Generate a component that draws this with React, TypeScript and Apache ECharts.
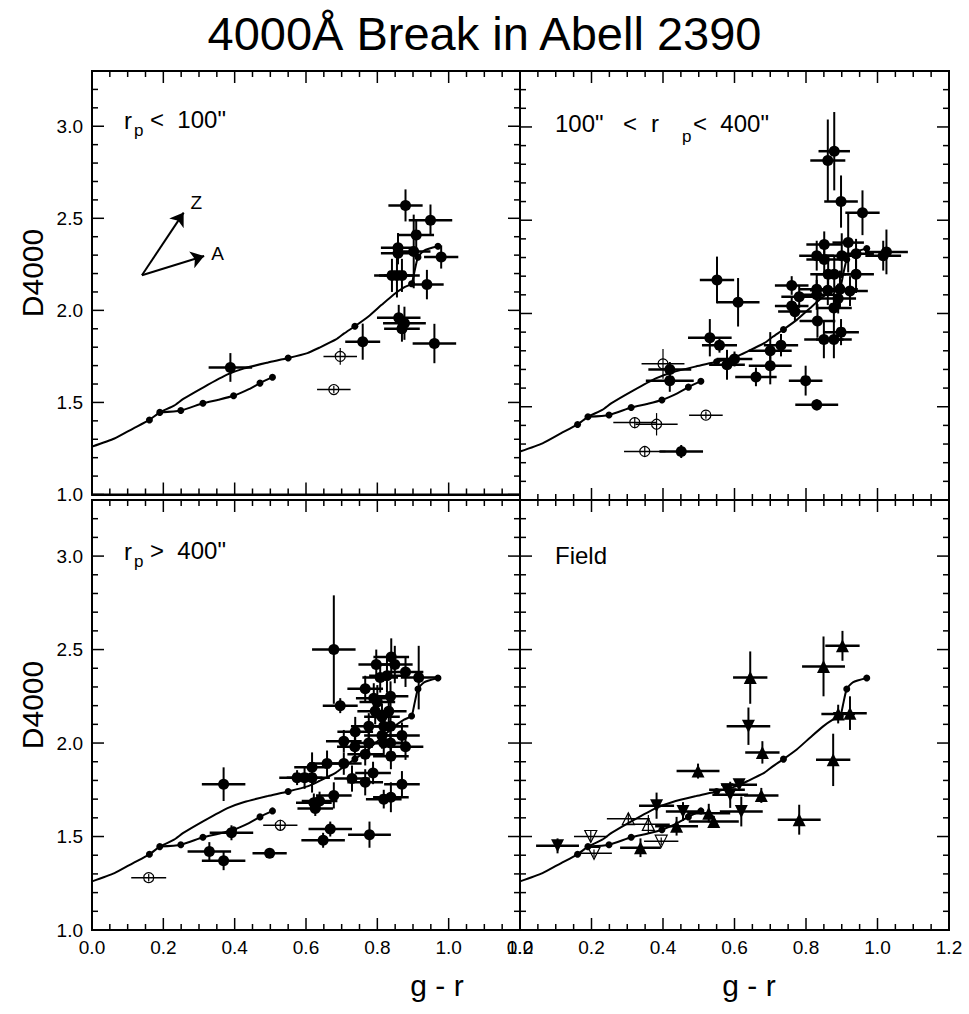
import React, { useEffect, useRef } from 'react';
import * as echarts from 'echarts';

const FONT = '"Liberation Sans", Arial, Helvetica, sans-serif';
const TITLE = '4000Å Break in Abell 2390';
const X_MIN = 0, X_MAX = 1.2, X_STEP = 0.2;
const Y_MIN = 1.0, Y_MAX = 3.3, Y_STEP = 0.5;

// tick positions
const xMajorTicks = [0, 0.2, 0.4, 0.6, 0.8, 1.0, 1.2];
const xMinorTicks = [0.05, 0.1, 0.15, 0.25, 0.3, 0.35, 0.45, 0.5, 0.55, 0.65, 0.7, 0.75, 0.85, 0.9, 0.95, 1.05, 1.1, 1.15];
const yMajorTicks = [1.0, 1.5, 2.0, 2.5, 3.0];
const yMinorTicks = [1.1, 1.2, 1.3, 1.4, 1.6, 1.7, 1.8, 1.9, 2.1, 2.2, 2.3, 2.4, 2.6, 2.7, 2.8, 2.9, 3.1, 3.2];

const modelMainX = [0.0, 0.063, 0.114, 0.161, 0.19, 0.23, 0.256, 0.315, 0.38, 0.427, 0.492, 0.55, 0.604, 0.637, 0.684, 0.707, 0.737, 0.775, 0.812, 0.847, 0.875, 0.896, 0.903, 0.914, 0.931, 0.97];
const modelMainY = [1.26, 1.304, 1.357, 1.405, 1.446, 1.483, 1.519, 1.585, 1.652, 1.685, 1.716, 1.741, 1.768, 1.797, 1.842, 1.875, 1.914, 1.967, 2.03, 2.088, 2.125, 2.145, 2.2, 2.289, 2.325, 2.348];
const modelLowX = [0.19, 0.249, 0.311, 0.355, 0.397, 0.44, 0.471, 0.506];
const modelLowY = [1.446, 1.456, 1.496, 1.515, 1.536, 1.572, 1.605, 1.637];
const modelDotsX = [0.161, 0.19, 0.55, 0.737, 0.896, 0.914, 0.97, 0.249, 0.311, 0.397, 0.471, 0.506];
const modelDotsY = [1.405, 1.446, 1.741, 1.914, 2.145, 2.289, 2.348, 1.456, 1.496, 1.536, 1.605, 1.637];

const arrowZ = [0.14, 2.191, 0.257, 2.531];
const arrowA = [0.14, 2.191, 0.3145, 2.295];
const arrowLabels = [
  { name: 'Z', value: [0.2925, 2.585] },
  { name: 'A', value: [0.352, 2.311] },
];

const p1Filled = [
  [0.388, 1.69, 0.061, 0.078], [0.879, 2.57, 0.048, 0.087], [0.949, 2.49, 0.061, 0.085],
  [0.909, 2.41, 0.05, 0.08], [0.858, 2.34, 0.048, 0.08], [0.858, 2.31, 0.048, 0.06],
  [0.902, 2.32, 0.047, 0.2], [0.979, 2.29, 0.048, 0.063], [0.841, 2.19, 0.05, 0.09],
  [0.855, 2.19, 0.05, 0.12], [0.869, 2.19, 0.05, 0.09], [0.939, 2.14, 0.047, 0.08],
  [0.860, 1.96, 0.061, 0.07], [0.876, 1.93, 0.06, 0.09], [0.869, 1.90, 0.05, 0.07],
  [0.759, 1.83, 0.049, 0.098], [0.960, 1.82, 0.061, 0.107],
];
const p1Open = [[0.696, 1.75, 0.047, 0.045], [0.678, 1.57, 0.047, 0.02]];

const p2Filled = [
  [0.879, 2.87, 0.044, 0.21], [0.861, 2.82, 0.049, 0.22], [0.898, 2.60, 0.047, 0.14],
  [0.958, 2.54, 0.048, 0.12], [0.851, 2.37, 0.05, 0.07], [0.918, 2.38, 0.044, 0.16],
  [0.830, 2.31, 0.049, 0.08], [0.851, 2.29, 0.05, 0.09], [0.900, 2.31, 0.05, 0.12],
  [0.940, 2.32, 0.05, 0.08], [1.025, 2.33, 0.06, 0.12], [1.016, 2.31, 0.05, 0.08],
  [0.862, 2.21, 0.05, 0.1], [0.879, 2.21, 0.05, 0.1], [0.940, 2.21, 0.05, 0.1],
  [0.760, 2.15, 0.047, 0.05], [0.781, 2.09, 0.05, 0.06], [0.830, 2.13, 0.05, 0.08],
  [0.861, 2.125, 0.05, 0.08], [0.895, 2.13, 0.05, 0.1], [0.923, 2.12, 0.05, 0.08],
  [0.830, 2.10, 0.05, 0.08], [0.760, 2.04, 0.047, 0.05], [0.769, 2.01, 0.047, 0.05],
  [0.890, 2.08, 0.05, 0.08], [0.878, 2.03, 0.05, 0.08], [0.832, 1.96, 0.05, 0.09],
  [0.898, 1.90, 0.05, 0.07], [0.850, 1.86, 0.055, 0.1], [0.878, 1.86, 0.05, 0.1],
  [0.730, 1.83, 0.048, 0.06], [0.700, 1.80, 0.06, 0.1], [0.700, 1.72, 0.06, 0.1],
  [0.799, 1.64, 0.047, 0.08], [0.830, 1.51, 0.06, 0.03], [0.551, 2.18, 0.048, 0.125],
  [0.610, 2.06, 0.06, 0.13], [0.531, 1.87, 0.061, 0.1], [0.558, 1.83, 0.049, 0.04],
  [0.579, 1.725, 0.05, 0.08], [0.600, 1.756, 0.05, 0.04], [0.419, 1.70, 0.06, 0.04],
  [0.419, 1.64, 0.067, 0.06], [0.660, 1.66, 0.058, 0.05], [0.451, 1.26, 0.061, 0.035],
];
const p2Open = [
  [0.400, 1.73, 0.06, 0.08], [0.321, 1.415, 0.06, 0.03], [0.382, 1.406, 0.059, 0.06],
  [0.349, 1.26, 0.058, 0.03], [0.520, 1.455, 0.047, 0.02],
];

const p3Filled = [
  [0.678, 2.50, 0.061, 0.29], [0.696, 2.20, 0.049, 0.04], [0.839, 2.46, 0.05, 0.1],
  [0.797, 2.42, 0.05, 0.08], [0.849, 2.42, 0.05, 0.1], [0.879, 2.38, 0.05, 0.08],
  [0.916, 2.35, 0.05, 0.17], [0.808, 2.35, 0.05, 0.08], [0.827, 2.36, 0.05, 0.09],
  [0.766, 2.29, 0.05, 0.07], [0.837, 2.25, 0.05, 0.08], [0.79, 2.24, 0.05, 0.08],
  [0.80, 2.22, 0.05, 0.09], [0.794, 2.17, 0.05, 0.07], [0.832, 2.17, 0.05, 0.08],
  [0.813, 2.14, 0.05, 0.07], [0.738, 2.06, 0.05, 0.08], [0.776, 2.09, 0.05, 0.07],
  [0.818, 2.09, 0.05, 0.08], [0.837, 2.09, 0.05, 0.08], [0.813, 2.04, 0.05, 0.07],
  [0.869, 2.04, 0.05, 0.07], [0.706, 2.01, 0.05, 0.06], [0.737, 1.98, 0.05, 0.08],
  [0.776, 2.00, 0.05, 0.07], [0.818, 2.00, 0.05, 0.07], [0.837, 2.00, 0.05, 0.07],
  [0.879, 1.98, 0.05, 0.07], [0.766, 1.94, 0.05, 0.06], [0.838, 1.93, 0.05, 0.07],
  [0.659, 1.89, 0.05, 0.07], [0.706, 1.89, 0.05, 0.06], [0.617, 1.87, 0.05, 0.08],
  [0.575, 1.815, 0.05, 0.04], [0.596, 1.815, 0.05, 0.06], [0.617, 1.815, 0.05, 0.08],
  [0.788, 1.84, 0.05, 0.06], [0.729, 1.81, 0.05, 0.07], [0.766, 1.79, 0.05, 0.07],
  [0.869, 1.78, 0.05, 0.07], [0.678, 1.72, 0.05, 0.07], [0.818, 1.70, 0.05, 0.05],
  [0.838, 1.71, 0.05, 0.08], [0.622, 1.68, 0.05, 0.05], [0.638, 1.69, 0.05, 0.05],
  [0.626, 1.65, 0.05, 0.04], [0.668, 1.54, 0.061, 0.04], [0.648, 1.48, 0.061, 0.04],
  [0.778, 1.51, 0.06, 0.07], [0.498, 1.41, 0.048, 0.02], [0.369, 1.78, 0.061, 0.09],
  [0.329, 1.42, 0.061, 0.05], [0.369, 1.37, 0.061, 0.05], [0.391, 1.52, 0.061, 0.04],
];
const p3Open = [[0.159, 1.28, 0.049, 0.02], [0.528, 1.56, 0.048, 0.03]];

const p4UpFilled = [
  [0.902, 2.52, 0.048, 0.08], [0.849, 2.41, 0.06, 0.16], [0.644, 2.35, 0.048, 0.14],
  [0.923, 2.16, 0.047, 0.09], [0.890, 2.155, 0.047, 0.05], [0.876, 1.91, 0.048, 0.14],
  [0.678, 1.95, 0.048, 0.06], [0.498, 1.85, 0.06, 0.04], [0.675, 1.72, 0.048, 0.04],
  [0.781, 1.59, 0.06, 0.08], [0.337, 1.44, 0.057, 0.05], [0.438, 1.555, 0.06, 0.05],
  [0.528, 1.625, 0.06, 0.05], [0.542, 1.58, 0.07, 0.03],
];
const p4UpOpen = [[0.303, 1.595, 0.06, 0.03], [0.359, 1.565, 0.06, 0.05]];
const p4DownFilled = [
  [0.639, 2.09, 0.061, 0.1], [0.105, 1.45, 0.06, 0.04], [0.382, 1.665, 0.049, 0.07],
  [0.456, 1.634, 0.048, 0.05], [0.579, 1.75, 0.05, 0.03], [0.588, 1.723, 0.05, 0.07],
  [0.613, 1.777, 0.05, 0.03], [0.619, 1.634, 0.06, 0.08],
];
const p4DownOpen = [[0.198, 1.50, 0.047, 0.03], [0.207, 1.41, 0.05, 0.02], [0.395, 1.475, 0.048, 0.02]];

const BLACK = '#000';
const MAJOR_LEN = 12, MINOR_LEN = 6;

// one chart instance per panel: its div box and the grid inside it
const PANELS = [
  { div: { left: 0, top: 60, width: 545, height: 444 }, grid: { left: 92, top: 11, width: 428, height: 429 }, xLabels: false, yLabels: true },
  { div: { left: 495, top: 60, width: 474, height: 444 }, grid: { left: 25, top: 11, width: 429, height: 429 }, xLabels: false, yLabels: false },
  { div: { left: 0, top: 496, width: 545, height: 518 }, grid: { left: 92, top: 4, width: 428, height: 430 }, xLabels: true, yLabels: true },
  { div: { left: 495, top: 496, width: 474, height: 518 }, grid: { left: 25, top: 4, width: 429, height: 430 }, xLabels: true, yLabels: false },
];

function errRender(lw: number) {
  return (params: any, api: any) => {
    const x = api.value(0), y = api.value(1), ex = api.value(2), ey = api.value(3);
    const a = api.coord([x - ex, y]);
    const b = api.coord([x + ex, y]);
    const c = api.coord([x, y - ey]);
    const d = api.coord([x, y + ey]);
    return {
      type: 'group',
      children: [
        { type: 'line', shape: { x1: a[0], y1: a[1], x2: b[0], y2: b[1] }, style: { stroke: BLACK, lineWidth: lw } },
        { type: 'line', shape: { x1: c[0], y1: c[1], x2: d[0], y2: d[1] }, style: { stroke: BLACK, lineWidth: lw * 0.8 } },
      ],
    };
  };
}

function errSeries(data: number[][], lw: number) {
  return { type: 'custom', renderItem: errRender(lw), data, encode: { x: 0, y: 1 }, z: 2, silent: true };
}

// inward tick marks on all four sides, placed through the axes' scales
function tickRender(params: any, api: any) {
  const side = api.value(2), len = api.value(3);
  let x1 = 0, y1 = 0, x2 = 0, y2 = 0;
  if (side < 2) {
    const v = api.value(0);
    const bot = api.coord([v, Y_MIN]);
    const top = api.coord([v, Y_MAX]);
    x1 = bot[0]; x2 = bot[0];
    if (side === 0) { y1 = bot[1]; y2 = bot[1] - len; } else { y1 = top[1]; y2 = top[1] + len; }
  } else {
    const v = api.value(1);
    const lft = api.coord([X_MIN, v]);
    const rgt = api.coord([X_MAX, v]);
    y1 = lft[1]; y2 = lft[1];
    if (side === 2) { x1 = lft[0]; x2 = lft[0] + len; } else { x1 = rgt[0]; x2 = rgt[0] - len; }
  }
  return { type: 'group', children: [{ type: 'line', shape: { x1, y1, x2, y2 }, style: { stroke: BLACK, lineWidth: 1.5 } }] };
}

function tickSeries() {
  const data: number[][] = [];
  [0, 1].forEach((side) => {
    xMajorTicks.forEach((v) => data.push([v, Y_MIN, side, MAJOR_LEN]));
    xMinorTicks.forEach((v) => data.push([v, Y_MIN, side, MINOR_LEN]));
  });
  [2, 3].forEach((side) => {
    yMajorTicks.forEach((v) => data.push([X_MIN, v, side, MAJOR_LEN]));
    yMinorTicks.forEach((v) => data.push([X_MIN, v, side, MINOR_LEN]));
  });
  return { type: 'custom', renderItem: tickRender, data, encode: { x: 0, y: 1 } };
}

function markSeries(data: number[][], symbol: string, size: number, open: boolean, rotate = 0) {
  return {
    type: 'scatter', symbol, symbolSize: size, symbolRotate: rotate,
    data: data.map((d) => [d[0], d[1]]), z: 4, silent: true,
    itemStyle: open
      ? { color: 'rgba(255,255,255,0)', borderColor: BLACK, borderWidth: 1.2, opacity: 1 }
      : { color: BLACK, borderWidth: 0, opacity: 1 },
  };
}

function modelSeries() {
  return [
    {
      type: 'line', showSymbol: false, smooth: 0.2, z: 3, silent: true,
      data: modelMainX.map((x, k) => [x, modelMainY[k]]), lineStyle: { color: BLACK, width: 2 },
    },
    {
      type: 'line', showSymbol: false, smooth: 0.2, z: 3, silent: true,
      data: modelLowX.map((x, k) => [x, modelLowY[k]]), lineStyle: { color: BLACK, width: 2 },
    },
    {
      type: 'scatter', symbolSize: 7, z: 3, silent: true,
      data: modelDotsX.map((x, k) => [x, modelDotsY[k]]), itemStyle: { color: BLACK, opacity: 1 },
    },
  ];
}

function txt(x: number, y: number, text: string, size: number, extra: any = {}) {
  return {
    type: 'text', x, y, silent: true, ...extra,
    style: { text, fontSize: size, fontFamily: FONT, fill: BLACK, verticalAlign: 'middle', align: 'left', ...(extra.style || {}) },
  };
}
const dLabel = (x: number, y: number) => txt(x, y, 'D4000', 30, { rotation: Math.PI / 2, style: { align: 'center' } });
const gLabel = (x: number, y: number) => txt(x, y, 'g - r', 30, { style: { align: 'center' } });

const PANEL_TEXTS = [
  [txt(124, 60, 'r', 24), txt(134, 70, 'p', 17), txt(150, 59, '<  100"', 24), dLabel(32, 213)],
  [txt(60, 63, '100"', 24), txt(128, 63, '<', 24), txt(156, 63, 'r', 24), txt(187, 76, 'p', 17), txt(198, 63, '<  400"', 24)],
  [txt(124, 55, 'r', 24), txt(134, 65, 'p', 17), txt(150, 54, '>  400"', 24), dLabel(32, 209), gLabel(437, 489)],
  [txt(60, 59, 'Field', 24), gLabel(254, 489)],
];

function panelSeries(idx: number) {
  const s: any[] = [tickSeries(), ...modelSeries()];
  if (idx < 3) {
    const p = [
      { filled: p1Filled, open: p1Open },
      { filled: p2Filled, open: p2Open },
      { filled: p3Filled, open: p3Open },
    ][idx];
    s.push(errSeries(p.filled, 2.5), errSeries(p.open, 1.5));
    s.push(markSeries(p.filled, 'circle', 11, false), markSeries(p.open, 'circle', 10, true));
  } else {
    s.push(errSeries(p4UpFilled, 2.5), errSeries(p4DownFilled, 2.5), errSeries(p4UpOpen, 1.5), errSeries(p4DownOpen, 1.5));
    s.push(markSeries(p4UpFilled, 'triangle', 13, false));
    s.push(markSeries(p4DownFilled, 'triangle', 13, false, 180));
    s.push(markSeries(p4UpOpen, 'triangle', 12, true));
    s.push(markSeries(p4DownOpen, 'triangle', 12, true, 180));
  }
  if (idx === 0) {
    s.push({
      type: 'lines', coordinateSystem: 'cartesian2d', z: 5, silent: true,
      symbol: ['none', 'arrow'], symbolSize: 13,
      lineStyle: { color: BLACK, width: 2, opacity: 1 },
      data: [arrowZ, arrowA].map((a) => ({ coords: [[a[0], a[1]], [a[2], a[3]]] })),
    });
    s.push({
      type: 'scatter', symbolSize: 1, z: 5, silent: true,
      itemStyle: { color: 'rgba(0,0,0,0)', opacity: 1 },
      label: { show: true, position: 'inside', formatter: '{b}', fontSize: 19, color: BLACK, fontFamily: FONT },
      data: arrowLabels,
    });
  }
  return s;
}

function panelOption(idx: number) {
  const P = PANELS[idx];
  return {
    animation: false,
    grid: { ...P.grid, show: true, borderColor: BLACK, borderWidth: 2, backgroundColor: 'rgba(0,0,0,0)' },
    xAxis: {
      type: 'value', min: X_MIN, max: X_MAX, interval: X_STEP,
      axisLine: { show: true, onZero: false, lineStyle: { color: BLACK, width: 2 } },
      axisTick: { show: false },
      splitLine: { show: false },
      axisLabel: { show: P.xLabels, fontSize: 19, color: BLACK, fontFamily: FONT, margin: 8, formatter: (v: number) => v.toFixed(1) },
    },
    yAxis: {
      type: 'value', min: Y_MIN, max: Y_MAX, interval: Y_STEP,
      axisLine: { show: true, onZero: false, lineStyle: { color: BLACK, width: 2 } },
      axisTick: { show: false },
      splitLine: { show: false },
      axisLabel: { show: P.yLabels, fontSize: 19, color: BLACK, fontFamily: FONT, margin: 9, showMaxLabel: false, formatter: (v: number) => v.toFixed(1) },
    },
    series: panelSeries(idx),
    graphic: PANEL_TEXTS[idx],
  };
}

function titleOption() {
  return {
    animation: false,
    title: {
      text: TITLE, left: 'center', top: 5,
      textStyle: { fontSize: 47, fontWeight: 'normal', color: BLACK, fontFamily: FONT },
    },
  };
}

function Chart({ box, build }: { box: any; build: () => any }) {
  const ref = useRef<HTMLDivElement>(null);
  useEffect(() => {
    if (!ref.current) return;
    const chart = echarts.init(ref.current, undefined, { renderer: 'svg' });
    chart.setOption(build());
    return () => chart.dispose();
  }, []);
  return <div ref={ref} style={{ position: 'absolute', ...box }} />;
}

export default function App() {
  useEffect(() => {
    document.body.style.margin = '0';
  }, []);
  return (
    <div style={{ position: 'relative', width: 969, height: 1014, background: '#fff' }}>
      <Chart box={{ left: 0, top: 0, width: 969, height: 64 }} build={titleOption} />
      {PANELS.map((P, i) => (
        <Chart key={i} box={P.div} build={() => panelOption(i)} />
      ))}
    </div>
  );
}
